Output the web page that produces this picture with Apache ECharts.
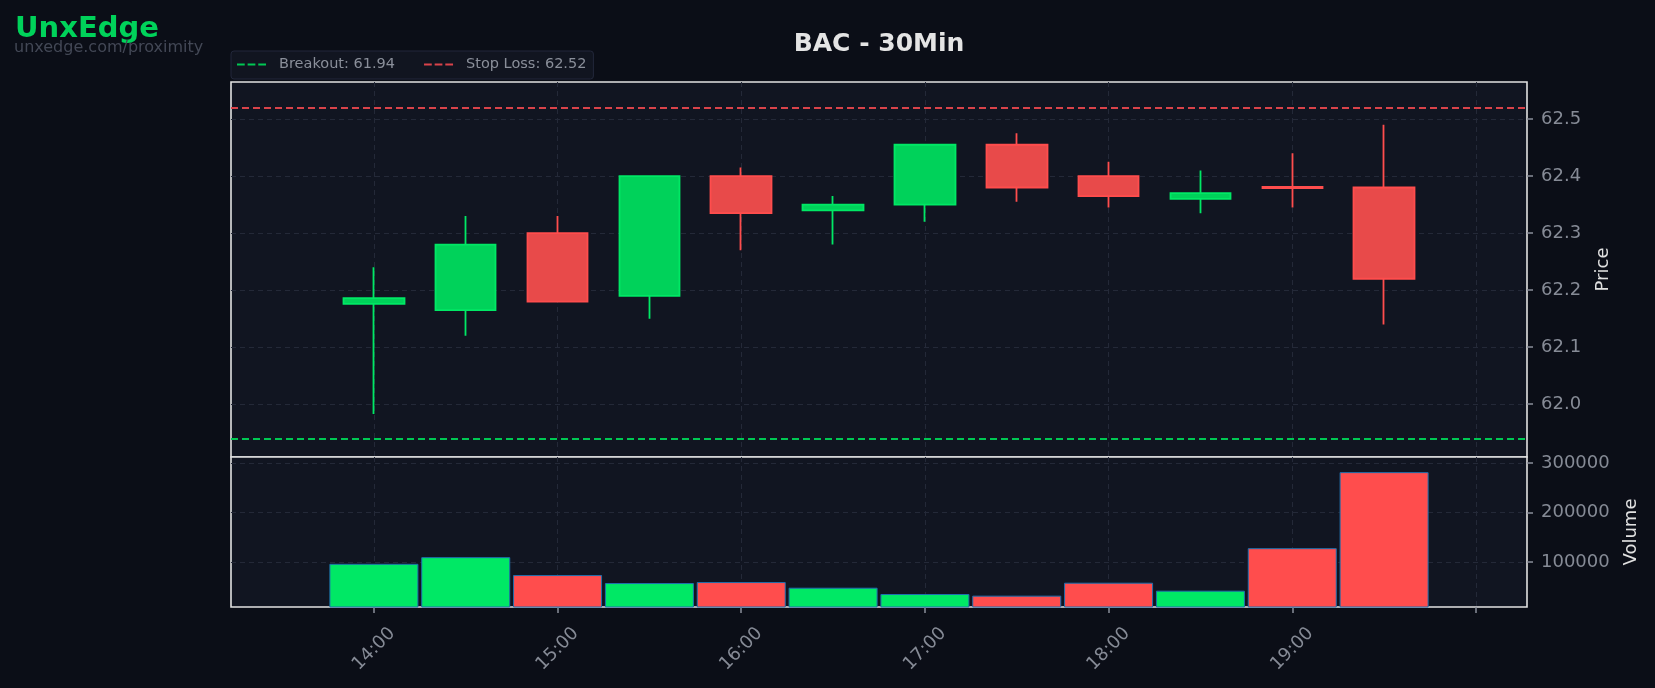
<!DOCTYPE html>
<html>
<head>
<meta charset="utf-8">
<script src="https://cdn.jsdelivr.net/npm/echarts@6/dist/echarts.min.js"></script>
<style>
html,body{margin:0;padding:0;background:#0b0e17;}
#chart{width:1655px;height:688px;}
</style>
</head>
<body>
<div id="chart"></div>
<script>
// ---- data ----
const times   = ['14:00','14:30','15:00','15:30','16:00','16:30','17:00','17:30','18:00','18:30','19:00','19:30'];
const opens   = [62.176, 62.165, 62.300, 62.190, 62.400, 62.340, 62.350, 62.455, 62.400, 62.360, 62.381, 62.380];
const closes  = [62.186, 62.280, 62.180, 62.400, 62.335, 62.350, 62.455, 62.380, 62.365, 62.370, 62.379, 62.220];
const lows    = [61.983, 62.120, 62.180, 62.150, 62.270, 62.280, 62.320, 62.355, 62.345, 62.335, 62.345, 62.140];
const highs   = [62.240, 62.330, 62.330, 62.400, 62.415, 62.365, 62.455, 62.475, 62.425, 62.410, 62.440, 62.490];
const volumes = [96700, 110100, 74000, 57900, 59900, 48500, 35800, 32500, 58600, 42500, 128200, 281500];
const breakout = 61.939;
const stopLoss = 62.5152;
const xTickLabels = ['14:00','15:00','16:00','17:00','18:00','19:00'];

// ---- helpers ----
const toHours = s => { const [h, m] = s.split(':').map(Number); return h + m / 60; };
const fmtHour = v => { const h = Math.floor(v + 1e-9); const m = Math.round((v - h) * 60); return String(h).padStart(2,'0') + ':' + String(m).padStart(2,'0'); };
const xs = times.map(toHours);
const candleData = xs.map((x, i) => [x, opens[i], closes[i], lows[i], highs[i]]);
const volData = xs.map((x, i) => [x, volumes[i]]);

const UP = '#00d25a', UP_EDGE = '#00e865', DOWN = '#e84a4a', DOWN_EDGE = '#ff4d4d';
const VOL_UP = '#00e865', VOL_DOWN = '#ff4d4d';
const GRID_LINE = '#242938';
const LABEL = '#868b96';
const FONT = 'DejaVu Sans';
const DASH_ICON = 'path://M0,0h8v2h-8z M11,0h8v2h-8z M22,0h8v2h-8z';

const xMin = 13.222, xMax = 20.278;

const chart = echarts.init(document.getElementById('chart'), null, {renderer: 'canvas'});

const splitLine = {show: true, showMinLine: false, showMaxLine: false, lineStyle: {color: GRID_LINE, type: [5, 4], width: 1}};
const tickStyle = {show: true, length: 6, lineStyle: {color: '#8a8f9a', width: 1.5}};

const xAxisCommon = {
  type: 'value', min: xMin, max: xMax, splitNumber: 7,
  axisLine: {show: false},
  splitLine: splitLine
};

chart.setOption({
  backgroundColor: '#0b0e17',
  animation: false,
  textStyle: {fontFamily: FONT},
  title: [
    {text: 'BAC - 30Min', left: 879, top: 32, textAlign: 'center', padding: 0,
     textStyle: {color: '#e4e4e4', fontSize: 25, fontWeight: 'bold', fontFamily: FONT}},
    {text: 'UnxEdge', left: 15, top: 15, padding: 0,
     textStyle: {color: '#00d25a', fontSize: 29, fontWeight: 'bold', fontFamily: FONT}},
    {text: 'unxedge.com/proximity', left: 14, top: 40, padding: 0,
     textStyle: {color: '#434856', fontSize: 16, fontWeight: 'normal', fontFamily: FONT}}
  ],
  legend: {
    left: 231, top: 51, padding: [6, 7, 7, 6],
    itemWidth: 29, itemHeight: 2, itemGap: 29,
    backgroundColor: '#111520', borderColor: '#22273a', borderWidth: 1, borderRadius: 3,
    textStyle: {color: '#8a8f9a', fontSize: 14.5, fontFamily: FONT, padding: [0, 0, 0, 8]},
    data: [
      {name: `Breakout: ${breakout.toFixed(2)}`, icon: DASH_ICON},
      {name: `Stop Loss: ${stopLoss.toFixed(2)}`, icon: DASH_ICON}
    ]
  },
  grid: [
    {left: 231, right: 128, top: 82, height: 375, show: true, backgroundColor: '#111521', borderColor: '#e2e2e2', borderWidth: 1.6},
    {left: 231, right: 128, top: 457, height: 150, show: true, backgroundColor: '#111521', borderColor: '#e2e2e2', borderWidth: 1.6}
  ],
  xAxis: [
    Object.assign({}, xAxisCommon, {gridIndex: 0, axisTick: {show: false}, axisLabel: {show: false}}),
    Object.assign({}, xAxisCommon, {gridIndex: 1,
      axisTick: tickStyle,
      axisLabel: {show: true, rotate: 45, align: 'center', verticalAlign: 'middle',
        color: LABEL, fontSize: 18, fontFamily: FONT, margin: 42,
        showMinLabel: false, showMaxLabel: false,
        formatter: v => { const s = fmtHour(v); return xTickLabels.includes(s) ? s : ''; }}})
  ],
  yAxis: [
    {type: 'value', gridIndex: 0, position: 'right', min: 61.9075, max: 62.565, splitNumber: 6, scale: true,
     name: 'Price', nameLocation: 'middle', nameGap: 67, nameRotate: 90,
     nameTextStyle: {color: '#e0e0e0', fontSize: 18, fontFamily: FONT},
     axisLine: {show: false},
     axisTick: tickStyle,
     axisLabel: {color: LABEL, fontSize: 18, fontFamily: FONT, margin: 14, padding: [5, 0, 0, 0],
       showMinLabel: false, showMaxLabel: false,
       formatter: v => v.toFixed(1)},
     splitLine: splitLine},
    {type: 'value', gridIndex: 1, position: 'right', min: 9600, max: 312000, splitNumber: 3,
     name: 'Volume', nameLocation: 'middle', nameGap: 95, nameRotate: 90,
     nameTextStyle: {color: '#e0e0e0', fontSize: 18, fontFamily: FONT},
     axisLine: {show: false},
     axisTick: tickStyle,
     axisLabel: {color: LABEL, fontSize: 18, fontFamily: FONT, margin: 14, padding: [4, 0, 0, 0],
       showMinLabel: false, showMaxLabel: false,
       formatter: v => String(Math.round(v))},
     splitLine: splitLine}
  ],
  series: [
    {
      name: 'BAC', type: 'candlestick', xAxisIndex: 0, yAxisIndex: 0,
      data: candleData,
      encode: {x: 0, y: [1, 2, 3, 4]},
      barWidth: 61,
      itemStyle: {color: UP, color0: DOWN, borderColor: UP_EDGE, borderColor0: DOWN_EDGE, borderWidth: 1.8}
    },
    {
      name: 'Volume', type: 'bar', xAxisIndex: 1, yAxisIndex: 1,
      data: volData, barWidth: 89,
      itemStyle: {
        color: p => closes[p.dataIndex] >= opens[p.dataIndex] ? VOL_UP : VOL_DOWN,
        borderColor: '#1f6fae', borderWidth: 1
      }
    },
    {
      name: `Breakout: ${breakout.toFixed(2)}`, type: 'line', xAxisIndex: 0, yAxisIndex: 0,
      data: [], symbol: 'none',
      lineStyle: {color: '#00c853', width: 2, type: [7, 4]},
      itemStyle: {color: '#00c853'},
      markLine: {silent: true, symbol: ['none', 'none'], label: {show: false},
        lineStyle: {color: '#00c853', width: 2, type: [7, 4]},
        data: [{yAxis: breakout}]}
    },
    {
      name: `Stop Loss: ${stopLoss.toFixed(2)}`, type: 'line', xAxisIndex: 0, yAxisIndex: 0,
      data: [], symbol: 'none',
      lineStyle: {color: '#d9434a', width: 2, type: [7, 4]},
      itemStyle: {color: '#d9434a'},
      markLine: {silent: true, symbol: ['none', 'none'], label: {show: false},
        lineStyle: {color: '#d9434a', width: 2, type: [7, 4]},
        data: [{yAxis: stopLoss}]}
    }
  ]
});
</script>
</body>
</html>
